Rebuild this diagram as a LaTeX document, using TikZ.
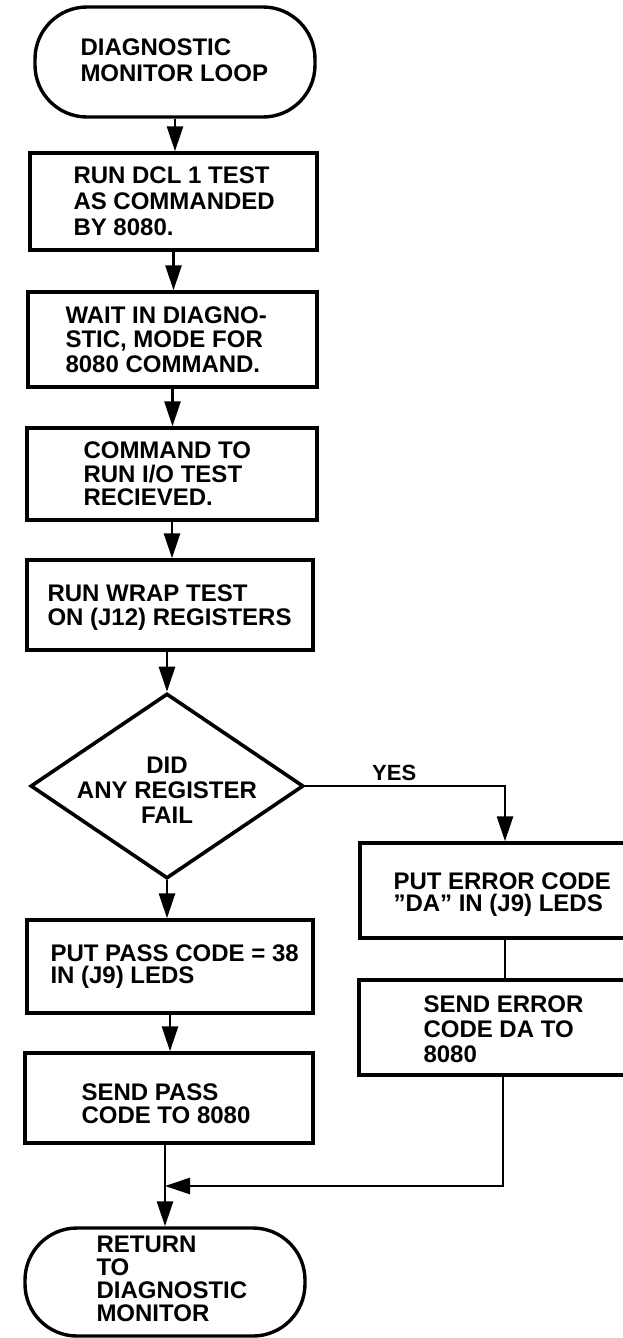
\documentclass[tikz,border=0pt]{standalone}
\usepackage{fontspec}
\setmainfont{Liberation Sans}
\usetikzlibrary{shapes.geometric,arrows.meta,calc}
\begin{document}
\begin{tikzpicture}[x=1pt,y=-1pt,
  shp/.style={draw,line width=3.4pt,inner sep=0pt,fill=white},
  boxn/.style={shp,rectangle},
  term/.style={shp,rectangle,rounded corners=52pt},
  dec/.style={shp,diamond,line width=3.6pt},
  txt/.style={inner sep=0pt,anchor=west,align=left,font=\bfseries\fontsize{24}{#1}\selectfont},
  ctxt/.style={inner sep=0pt,anchor=center,align=center,font=\bfseries\fontsize{24}{#1}\selectfont},
  ln/.style={line width=2.8pt},
  arr/.style={ln,-{Triangle[length=25pt,width=16pt]}}
]
\useasboundingbox (0,0) rectangle (622,1338);

% shapes
\node[term,minimum width=280pt,minimum height=110pt] (t1) at (175,62) {};
\node[boxn,minimum width=287pt,minimum height=97pt] (b1) at (173.5,201.5) {};
\node[boxn,minimum width=289pt,minimum height=95pt] (b2) at (172.5,339.5) {};
\node[boxn,minimum width=290pt,minimum height=92pt] (b3) at (172,474) {};
\node[boxn,minimum width=286pt,minimum height=90pt] (b4) at (170,605) {};
\node[dec,minimum width=273pt,minimum height=185pt] (d) at (167,786) {};
\node[boxn,minimum width=286pt,minimum height=93pt] (p1) at (170,966.5) {};
\node[boxn,minimum width=288pt,minimum height=90pt] (p2) at (169,1098) {};
\node[boxn,minimum width=290pt,minimum height=95pt] (e1) at (505,890.5) {};
\node[boxn,minimum width=288pt,minimum height=95pt] (e2) at (503,1027.5) {};
\node[term,minimum width=280pt,minimum height=108pt] (t2) at (165,1282) {};

% texts
\node[txt=26pt,yshift=2pt] (t1t) at ([xshift=47pt]t1.west) {DIAGNOSTIC\\MONITOR LOOP};
\node[txt=26pt] (b1t) at ([xshift=45pt]b1.west) {RUN DCL 1 TEST\\AS COMMANDED\\BY 8080.};
\node[txt=24.5pt] (b2t) at ([xshift=39pt]b2.west) {WAIT IN DIAGNO-\\STIC, MODE FOR\\8080 COMMAND.};
\node[txt=23.5pt] (b3t) at ([xshift=58pt]b3.west) {COMMAND TO\\RUN I/O TEST\\RECIEVED.};
\node[txt=24pt,yshift=-2.5pt] (b4t) at ([xshift=22pt]b4.west) {RUN WRAP TEST\\ON (J12) REGISTERS};
\node[ctxt=25pt] (dt) at (167,790) {DID\\ANY REGISTER\\FAIL};
\node[txt=22pt] (p1t) at ([xshift=25pt]p1.west) {PUT PASS CODE = 38\\IN (J9) LEDS};
\node[txt=23pt,yshift=-6pt] (p2t) at ([xshift=58pt]p2.west) {SEND PASS\\CODE TO 8080};
\node[txt=22pt,yshift=-4.5pt] (e1t) at ([xshift=35pt]e1.west) {PUT ERROR CODE\\”DA” IN (J9) LEDS};
\node[txt=25pt,yshift=-2pt] (e2t) at ([xshift=66pt]e2.west) {SEND ERROR\\CODE DA TO\\8080};
\node[txt=23pt,yshift=3.5pt] (t2t) at ([xshift=73pt]t2.west) {RETURN\\TO\\DIAGNOSTIC\\MONITOR};
\node[txt=22pt,font=\bfseries\fontsize{22}{22}\selectfont] (yes) at (372,772.5) {YES};

% connectors
\draw[arr] (t1.south) -- (t1.south |- b1.north);
\draw[arr] (b1.south) -- (b1.south |- b2.north);
\draw[arr] (b2.south) -- (b2.south |- b3.north);
\draw[arr] (b3.south) -- (b3.south |- b4.north);
\draw[arr] (d.north |- b4.south) -- (d.north);
\draw[arr] (d.south) -- (d.south |- p1.north);
\draw[arr] (p1.south) -- (p1.south |- p2.north);
\coordinate (j) at (t2.north |- 0,1186);
\draw[arr] (t2.north |- p2.south) -- (t2.north);
\draw[arr] (d.east) -| (e1.north);
\draw[ln] (e1.south) -- (e1.south |- e2.north);
\draw[arr] (e2.south) |- (j);
\end{tikzpicture}
\end{document}
